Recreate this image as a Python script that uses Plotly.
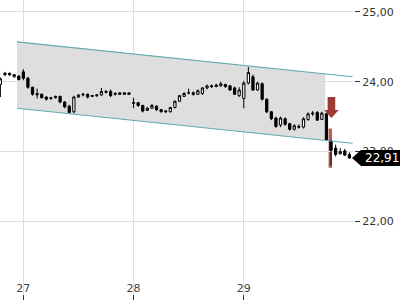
import pandas as pd
import plotly.graph_objects as go

# ---- data ----
times = pd.date_range("2024-12-26 19:00", periods=77, freq="h")
opens = [23.96, 24.10, 24.12, 24.07, 24.08, 24.14, 24.05, 23.92, 23.81, 23.82,
         23.78, 23.76, 23.77, 23.79, 23.71, 23.65, 23.57, 23.78, 23.81, 23.82,
         23.79, 23.80, 23.81, 23.86, 23.86, 23.82, 23.84, 23.84, 23.84, 23.69,
         23.70, 23.66, 23.59, 23.62, 23.65, 23.60, 23.57, 23.57, 23.63, 23.72,
         23.79, 23.84, 23.84, 23.82, 23.83, 23.91, 23.94, 23.93, 23.94, 23.96,
         23.94, 23.91, 23.80, 23.76, 23.98, 24.07, 23.88, 23.97, 23.75, 23.57,
         23.48, 23.38, 23.47, 23.40, 23.32, 23.36, 23.35, 23.46, 23.54, 23.56,
         23.46, 23.54, 23.15, 23.05, 22.97, 23.01, 22.96]
highs = [24.06, 24.14, 24.13, 24.11, 24.09, 24.18, 24.07, 23.93, 23.90, 23.83,
         23.79, 23.78, 23.80, 23.80, 23.72, 23.67, 23.80, 23.82, 23.84, 23.83,
         23.81, 23.82, 23.91, 23.88, 23.89, 23.85, 23.85, 23.85, 23.84, 23.77,
         23.71, 23.67, 23.64, 23.68, 23.66, 23.61, 23.59, 23.64, 23.73, 23.81,
         23.85, 23.90, 23.86, 23.89, 23.92, 23.96, 23.96, 23.97, 24.00, 23.97,
         23.95, 23.93, 23.92, 24.01, 24.21, 24.10, 24.00, 23.99, 23.76, 23.58,
         23.50, 23.50, 23.49, 23.41, 23.39, 23.39, 23.49, 23.56, 23.58, 23.58,
         23.57, 23.56, 23.17, 23.10, 23.05, 23.04, 22.99]
lows = [23.78, 24.08, 24.08, 24.06, 24.02, 24.02, 23.90, 23.80, 23.76, 23.76,
        23.73, 23.74, 23.76, 23.69, 23.62, 23.55, 23.55, 23.77, 23.79, 23.76,
        23.78, 23.78, 23.80, 23.83, 23.78, 23.80, 23.81, 23.81, 23.81, 23.62,
        23.64, 23.56, 23.58, 23.61, 23.58, 23.56, 23.55, 23.56, 23.62, 23.71,
        23.78, 23.82, 23.80, 23.81, 23.81, 23.89, 23.91, 23.92, 23.93, 23.91,
        23.87, 23.81, 23.78, 23.62, 23.96, 23.87, 23.87, 23.73, 23.55, 23.45,
        23.34, 23.35, 23.37, 23.30, 23.30, 23.33, 23.33, 23.44, 23.51, 23.44,
        23.45, 23.15, 22.80, 22.93, 22.96, 22.94, 22.90]
closes = [24.04, 24.12, 24.10, 24.10, 24.03, 24.05, 23.92, 23.82, 23.83, 23.77,
          23.75, 23.77, 23.79, 23.71, 23.64, 23.56, 23.78, 23.81, 23.82, 23.78,
          23.80, 23.81, 23.86, 23.85, 23.80, 23.83, 23.82, 23.82, 23.82, 23.70,
          23.66, 23.58, 23.62, 23.66, 23.60, 23.57, 23.58, 23.63, 23.72, 23.80,
          23.83, 23.84, 23.82, 23.87, 23.91, 23.94, 23.93, 23.95, 23.97, 23.93,
          23.88, 23.82, 23.88, 23.98, 24.13, 23.88, 23.98, 23.75, 23.57, 23.47,
          23.36, 23.48, 23.39, 23.32, 23.37, 23.35, 23.47, 23.54, 23.55, 23.45,
          23.55, 23.17, 23.02, 22.96, 23.00, 22.95, 22.91]

channel_start = "2024-12-26 22:37"
channel_end = "2024-12-29 23:41"
channel_fill_end = "2024-12-29 17:45"
channel_upper = [24.57, 24.07]
channel_lower = [23.62, 23.12]

signal_time = "2024-12-29 18:50"
signal_arrow_top = 23.78
signal_arrow_tip = 23.48
signal_bar = [23.33, 22.77]

y_ticks = [21, 22, 23, 24, 25]
x_ticks = ["2024-12-27", "2024-12-28", "2024-12-29"]
y_range = [20.88, 25.167]
x_range = ["2024-12-26 18:55", "2024-12-30 00:00"]
last_price = closes[-1]

# ---- helpers ----
fmt = "%Y-%m-%d %H:%M:%S"
pfmt = "%Y-%m-%d_%H:%M:%S"
t0 = pd.Timestamp(channel_start)
t1 = pd.Timestamp(channel_end)
tf = pd.Timestamp(channel_fill_end)
frac = (tf - t0) / (t1 - t0)
up_f = channel_upper[0] + (channel_upper[1] - channel_upper[0]) * frac
lo_f = channel_lower[0] + (channel_lower[1] - channel_lower[0]) * frac

fig = go.Figure()

# channel fill (translucent so gridlines show through darker)
a, b = t0.strftime(pfmt), tf.strftime(pfmt)
fig.add_shape(type="path", xref="x", yref="y", layer="below",
              path=f"M {a},{channel_upper[0]} L {b},{up_f:.4f} L {b},{lo_f:.4f} L {a},{channel_lower[0]} Z",
              fillcolor="rgba(0,0,0,0.13)", line=dict(width=0))

# signal bar (behind candles)
st = pd.Timestamp(signal_time)
bw = pd.Timedelta(minutes=22)
fig.add_shape(type="rect", xref="x", yref="y", layer="below",
              x0=(st - bw).strftime(fmt), x1=(st + bw).strftime(fmt),
              y0=signal_bar[0], y1=signal_bar[1],
              fillcolor="rgba(172,58,52,0.85)", line=dict(width=0))

# candles
fig.add_trace(go.Candlestick(
    x=times, open=opens, high=highs, low=lows, close=closes,
    increasing=dict(line=dict(color="#000000", width=1), fillcolor="#ffffff"),
    decreasing=dict(line=dict(color="#000000", width=1), fillcolor="#000000"),
    whiskerwidth=0, showlegend=False, hoverinfo="skip"))

# channel lines
for vals in (channel_upper, channel_lower):
    fig.add_trace(go.Scatter(x=[t0, t1], y=vals, mode="lines",
                             line=dict(color="#62a9ab", width=1.2),
                             hoverinfo="skip", showlegend=False))

# signal arrow
sw = pd.Timedelta(minutes=50)
hw = pd.Timedelta(minutes=95)
sa = st + pd.Timedelta(minutes=15)
head_y = signal_arrow_tip + (signal_arrow_top - signal_arrow_tip) * 0.38
fig.add_trace(go.Scatter(
    x=[sa - sw, sa + sw, sa + sw, sa + hw, sa, sa - hw, sa - sw, sa - sw],
    y=[signal_arrow_top, signal_arrow_top, head_y, head_y, signal_arrow_tip, head_y, head_y, signal_arrow_top],
    fill="toself", fillcolor="#9c3a33", line=dict(width=0), mode="lines",
    hoverinfo="skip", showlegend=False))

# last price label
plot_w = 354.0
ymin, ymax = y_range
py = (last_price - ymin) / (ymax - ymin)
hh = 8.0 / 300.0
tip = 352 / plot_w
bl = 361 / plot_w
br = 402 / plot_w
fig.add_shape(type="path", xref="paper", yref="paper",
              path=f"M {tip} {py} L {bl} {py + hh} L {br} {py + hh} L {br} {py - hh} L {bl} {py - hh} Z",
              fillcolor="#000000", line=dict(width=0), layer="above")
fig.add_annotation(xref="paper", yref="y", x=363 / plot_w, y=last_price, xanchor="left",
                   text=f"{last_price:.2f}".replace(".", ","), showarrow=False,
                   font=dict(family="DejaVu Sans", size=12, color="#ffffff"))

grid = "#dedede"
fig.update_layout(
    width=400, height=300, margin=dict(l=0, r=46, t=0, b=0),
    paper_bgcolor="#ffffff", plot_bgcolor="#ffffff",
    separators=",.", showlegend=False,
    font=dict(family="DejaVu Sans", size=11, color="#333333"),
    xaxis=dict(range=x_range, type="date", tickvals=x_ticks, tickformat="%d",
               showgrid=True, gridcolor=grid, gridwidth=1, zeroline=False,
               ticks="inside", ticklen=5, tickcolor="#333333",
               ticklabelposition="inside", rangeslider=dict(visible=False),
               showline=False, fixedrange=True),
    yaxis=dict(range=y_range, side="right", tickvals=y_ticks, tickformat=".2f",
               showgrid=True, gridcolor=grid, gridwidth=1, zeroline=False,
               ticks="outside", ticklen=5, tickcolor="#333333", showline=False,
               fixedrange=True),
)

fig.write_html("out.html")
